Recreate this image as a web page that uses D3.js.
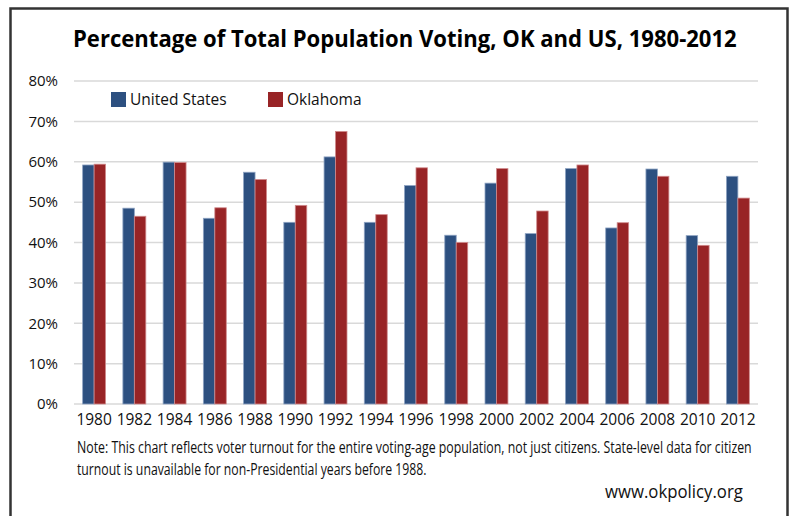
<!DOCTYPE html>
<html><head><meta charset="utf-8">
<script src="https://cdn.jsdelivr.net/npm/d3@7"></script>
<style>body{margin:0;background:#fff}svg{display:block}</style>
</head><body>
<svg id="c" width="792" height="516"></svg>
<script>
const years = ["1980","1982","1984","1986","1988","1990","1992","1994","1996","1998","2000","2002","2004","2006","2008","2010","2012"];
const usValues = [59.2,48.5,59.9,46.0,57.4,45.0,61.2,45.0,54.1,41.8,54.7,42.2,58.3,43.6,58.2,41.7,56.4];
const okValues = [59.4,46.5,59.8,48.6,55.6,49.2,67.5,46.9,58.5,40.0,58.3,47.8,59.2,44.9,56.4,39.3,51.0];
const seriesNames = ["United States","Oklahoma"];
const yTicks = [0,10,20,30,40,50,60,70,80];
const colors = ["#2d5080","#982426"];
const titleText = "Percentage of Total Population Voting, OK and US, 1980-2012";
const noteLines = ["Note: This chart reflects voter turnout for the entire voting-age population, not just citizens. State-level data for citizen",
                   "turnout is unavailable for non-Presidential years before 1988."];
const sourceText = "www.okpolicy.org";

const svg = d3.select("#c");
const font = "'Open Sans', sans-serif";
const narrow = "'Liberation Sans Narrow', 'Open Sans', sans-serif";

// fit a text horizontally to a given width with a transform scale
function fitText(sel, x, yPos, width) {
  sel.attr("x",0).attr("y",0);
  const w = sel.node().getComputedTextLength();
  sel.attr("transform",`translate(${x},${yPos}) scale(${width/w},1)`);
}

// border
svg.append("rect").attr("x",10.5).attr("y",8.5).attr("width",777).attr("height",520)
  .attr("fill","none").attr("stroke","#333").attr("stroke-width",2.5);

// title
const title = svg.append("text").attr("font-family",font).attr("font-weight",700)
  .attr("font-size",22.5).attr("fill","#000").text(titleText);
fitText(title,73,47,664);

const x0 = d3.scaleBand().domain(years).range([74,758]).paddingInner(0.43).paddingOuter(0.215);
const x1 = d3.scaleBand().domain([0,1]).range([0,x0.bandwidth()]);
const y = d3.scaleLinear().domain([0,80]).range([404,81]);

// grid
svg.append("g").selectAll("line").data(yTicks).join("line")
  .attr("x1",74).attr("x2",758).attr("y1",d=>y(d)).attr("y2",d=>y(d))
  .attr("stroke","#d9d9d9").attr("stroke-width",1.5);

// y axis labels
const yAxis = d3.axisLeft(y).tickValues(yTicks).tickFormat(d=>d+"%").tickSize(0).tickPadding(0);
const gy = svg.append("g").attr("transform","translate(58,0)").call(yAxis);
gy.select(".domain").remove();
gy.selectAll("text").attr("font-family",font).attr("font-size",15).attr("fill","#111");

// x axis labels
const xAxis = d3.axisBottom(x0).tickSize(0).tickPadding(0);
const gx = svg.append("g").attr("transform","translate(0,414)").call(xAxis);
gx.select(".domain").remove();
gx.selectAll("text").attr("font-family",font).attr("font-size",15.5).attr("fill","#111").attr("dy","0.71em");

// bars
const data = years.map((yr,i)=>({yr, vals:[usValues[i], okValues[i]]}));
const groups = svg.append("g").selectAll("g").data(data).join("g")
  .attr("transform",d=>`translate(${x0(d.yr)},0)`);
groups.selectAll("rect").data(d=>d.vals.map((v,k)=>({v,k}))).join("rect")
  .attr("x",d=>x1(d.k)).attr("width",x1.bandwidth())
  .attr("y",d=>y(d.v)).attr("height",d=>y(0)-y(d.v))
  .attr("fill",d=>colors[d.k])
  .attr("stroke",d=>d.k===0?"#8ea3c2":"#d08a8c").attr("stroke-width",0.8);

// legend
const legendX = [111,268];
const lg = svg.append("g").selectAll("g").data(seriesNames).join("g")
  .attr("transform",(d,i)=>`translate(${legendX[i]},92)`);
lg.append("rect").attr("width",15).attr("height",15).attr("fill",(d,i)=>colors[i]);
lg.append("text").attr("x",19).attr("y",13).attr("font-family",font).attr("font-size",15.5).attr("fill","#111").text(d=>d);

// note
const noteLen = [675,350];
svg.append("g").selectAll("text").data(noteLines).join("text")
  .attr("font-family",narrow).attr("font-size",15.5).attr("fill","#111").text(d=>d)
  .each(function(d,i){ fitText(d3.select(this),77,453+i*22,noteLen[i]); });

const src = svg.append("text").attr("font-family",narrow).attr("font-size",19).attr("fill","#111").text(sourceText);
fitText(src,605,498,138);
</script>
</body></html>
